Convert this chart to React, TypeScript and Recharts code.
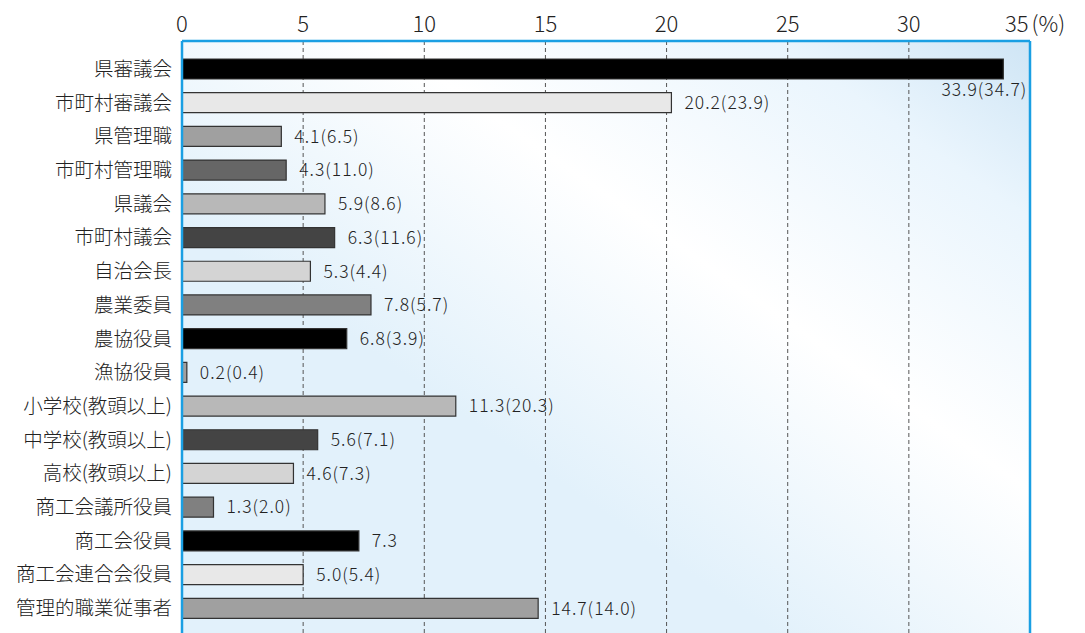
import {
  BarChart,
  Bar,
  XAxis,
  YAxis,
  CartesianGrid,
  Cell,
  LabelList,
  ReferenceLine,
} from "recharts";

const categories = [
  "県審議会",
  "市町村審議会",
  "県管理職",
  "市町村管理職",
  "県議会",
  "市町村議会",
  "自治会長",
  "農業委員",
  "農協役員",
  "漁協役員",
  "小学校(教頭以上)",
  "中学校(教頭以上)",
  "高校(教頭以上)",
  "商工会議所役員",
  "商工会役員",
  "商工会連合会役員",
  "管理的職業従事者",
];

// current values (%)
const values = [33.9, 20.2, 4.1, 4.3, 5.9, 6.3, 5.3, 7.8, 6.8, 0.2, 11.3, 5.6, 4.6, 1.3, 7.3, 5.0, 14.7];

// values in brackets (null = none shown)
const prevValues: (number | null)[] = [
  34.7, 23.9, 6.5, 11.0, 8.6, 11.6, 4.4, 5.7, 3.9, 0.4, 20.3, 7.1, 7.3, 2.0, null, 5.4, 14.0,
];

const xTicks = [0, 5, 10, 15, 20, 25, 30, 35];

const barColors = [
  "#000000", "#e8e8e8", "#a0a0a0", "#666666", "#b8b8b8", "#444444",
  "#d4d4d4", "#808080", "#000000", "#a0a0a0", "#b8b8b8", "#444444",
  "#d4d4d4", "#808080", "#000000", "#e8e8e8", "#a0a0a0",
];

const data = categories.map((name, i) => ({
  name,
  value: values[i],
  label:
    prevValues[i] != null
      ? `${values[i].toFixed(1)}(${(prevValues[i] as number).toFixed(1)})`
      : values[i].toFixed(1),
}));

const FONT = '"Noto Sans CJK JP", "Noto Sans", sans-serif';

const TopTick = ({ x, y, payload }: any) => {
  if (payload.value === 35) {
    return (
      <text x={x - 25} y={y - 1} textAnchor="start" fontSize={22} fontWeight={300} fill="#222" fontFamily={FONT}>
        35<tspan dx={3}>(%)</tspan>
      </text>
    );
  }
  return (
    <text x={x} y={y - 1} textAnchor="middle" fontSize={22} fontWeight={300} fill="#222" fontFamily={FONT}>
      {payload.value}
    </text>
  );
};

const CategoryTick = ({ x, y, payload }: any) => (
  <text
    x={x - 2}
    y={y}
    dy="0.36em"
    textAnchor="end"
    fontSize={19.5}
    fontWeight={300}
    fill="#222"
    fontFamily={FONT}
  >
    {payload.value}
  </text>
);

const ValueLabel = (props: any) => {
  const { x, y, width, height, value, index } = props;
  if (index === 0) {
    // first label sits under the end of the long bar
    return (
      <text
        x={x + width + 24}
        y={y + height + 17}
        textAnchor="end"
        fontSize={17.5}
        fontWeight={300}
        fill="#222"
        fontFamily={FONT}
        letterSpacing={1}
      >
        {value}
      </text>
    );
  }
  return (
    <text
      x={x + width + 13}
      y={y + height / 2}
      dy="0.36em"
      textAnchor="start"
      fontSize={17.5}
      fontWeight={300}
      fill="#222"
      fontFamily={FONT}
      letterSpacing={1}
    >
      {value}
    </text>
  );
};

export default function App() {
  return (
    <div style={{ position: "absolute", left: 0, top: 0, width: 1085, height: 633, background: "#fff" }}>
      <BarChart
        width={1085}
        height={633}
        data={data}
        layout="vertical"
        margin={{ top: 0, right: 55, left: 0, bottom: 0 }}
        barCategoryGap={0}
      >
        <defs>
          <linearGradient id="bgGrad" x1="0" y1="1" x2="1" y2="0">
            <stop offset="0%" stopColor="#e2f1fb" />
            <stop offset="35%" stopColor="#e2f1fb" />
            <stop offset="62%" stopColor="#ffffff" />
            <stop offset="85%" stopColor="#eaf5fd" />
            <stop offset="100%" stopColor="#cfe5f5" />
          </linearGradient>
        </defs>

        <CartesianGrid
          horizontal={false}
          stroke="#555"
          strokeDasharray="4 3"
          fill="url(#bgGrad)"
          fillOpacity={1}
        />

        <XAxis
          type="number"
          orientation="top"
          domain={[0, 35]}
          ticks={xTicks}
          height={41}
          tick={<TopTick />}
          tickLine={false}
          axisLine={{ stroke: "#1a9fe3", strokeWidth: 2.5 }}
        />

        <YAxis
          type="category"
          dataKey="name"
          width={182}
          interval={0}
          tick={<CategoryTick />}
          tickLine={false}
          axisLine={{ stroke: "#1a9fe3", strokeWidth: 2.5 }}
          padding={{ top: 11, bottom: 8 }}
        />

        <ReferenceLine x={35} stroke="#1a9fe3" strokeWidth={2.5} />

        <Bar dataKey="value" barSize={20} stroke="#333" strokeWidth={1.2} isAnimationActive={false}>
          {data.map((_, i) => (
            <Cell key={i} fill={barColors[i]} />
          ))}
          <LabelList dataKey="label" content={<ValueLabel />} />
        </Bar>
      </BarChart>
    </div>
  );
}
